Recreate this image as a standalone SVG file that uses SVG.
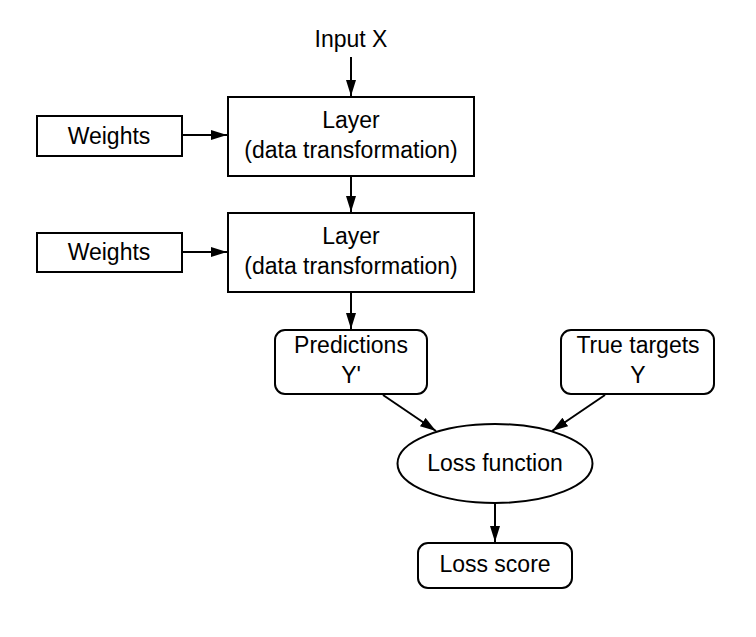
<svg xmlns="http://www.w3.org/2000/svg" width="756" height="637" viewBox="0 0 756 637">
<style>
.box{fill:#fff;stroke:#000;stroke-width:2}
.t{font-family:"Liberation Sans",Arial,sans-serif;font-size:23px;fill:#000;text-anchor:middle}
.c{stroke:#000;stroke-width:2;fill:none;marker-end:url(#ah)}
</style>
<defs>
<marker id="ah" markerUnits="userSpaceOnUse" markerWidth="18" markerHeight="12" refX="16" refY="5" orient="auto">
<path d="M0,0 L16,5 L0,10 Z" fill="#000"/>
</marker>
</defs>
<rect width="756" height="637" fill="#fff"/>
<g id="input-x"><text class="t" x="351" y="47">Input X</text></g>
<g id="layer1"><rect class="box" x="228" y="97" width="246" height="79"/><text class="t" x="351" y="128">Layer</text><text class="t" x="351" y="158">(data transformation)</text></g>
<g id="layer2"><rect class="box" x="228" y="213" width="246" height="79"/><text class="t" x="351" y="244">Layer</text><text class="t" x="351" y="274">(data transformation)</text></g>
<g id="weights1"><rect class="box" x="37" y="116" width="145" height="40"/><text class="t" x="109" y="144">Weights</text></g>
<g id="weights2"><rect class="box" x="37" y="233" width="145" height="39"/><text class="t" x="109" y="260">Weights</text></g>
<g id="predictions"><rect class="box" x="275" y="330" width="152" height="64" rx="10"/><text class="t" x="351" y="353">Predictions</text><text class="t" x="351" y="383">Y'</text></g>
<g id="true-targets"><rect class="box" x="561" y="330" width="153" height="64" rx="10"/><text class="t" x="638" y="353">True targets</text><text class="t" x="638" y="383">Y</text></g>
<g id="loss-function"><ellipse class="box" cx="495" cy="463.5" rx="97.5" ry="39.5"/><text class="t" x="495" y="471">Loss function</text></g>
<g id="loss-score"><rect class="box" x="418" y="543" width="154" height="45" rx="10"/><text class="t" x="495" y="572">Loss score</text></g>
<g id="connectors">
<line class="c" x1="351" y1="57" x2="351" y2="96"/>
<line class="c" x1="351" y1="176" x2="351" y2="212"/>
<line class="c" x1="351" y1="292" x2="351" y2="329"/>
<line class="c" x1="182" y1="135" x2="227" y2="135"/>
<line class="c" x1="182" y1="252" x2="227" y2="252"/>
<line class="c" x1="383" y1="395" x2="436" y2="431"/>
<line class="c" x1="605" y1="395" x2="552" y2="431"/>
<line class="c" x1="495" y1="503" x2="495" y2="542"/>
</g>
</svg>
